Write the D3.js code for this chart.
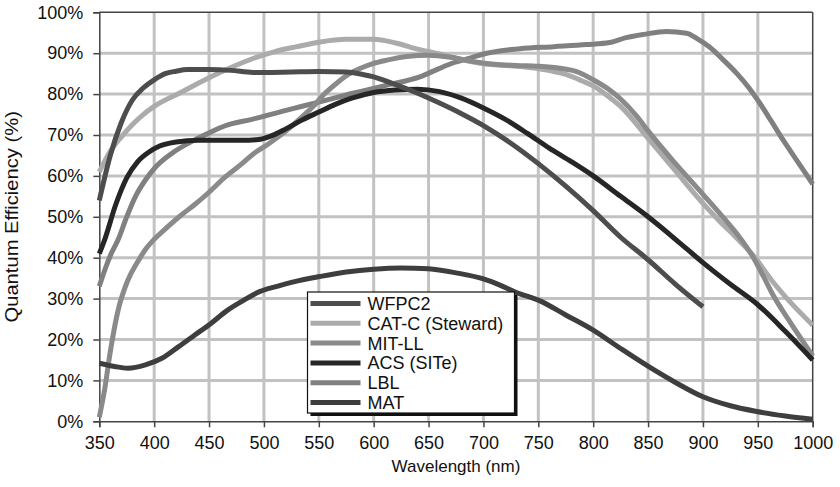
<!DOCTYPE html>
<html>
<head>
<meta charset="utf-8">
<script src="https://cdn.jsdelivr.net/npm/d3@7/dist/d3.min.js"></script>
<style>
  html, body { margin: 0; padding: 0; background: #fff; }
  svg { display: block; font-family: Arial, "Liberation Sans", sans-serif; }
</style>
</head>
<body>
<svg id="chart" width="840" height="487"></svg>
<script>
// ---- Data (wavelength nm, quantum efficiency %) ----
const xTicks = [350, 400, 450, 500, 550, 600, 650, 700, 750, 800, 850, 900, 950, 1000];
const yTicks = [0, 10, 20, 30, 40, 50, 60, 70, 80, 90, 100];
const seriesNames = ["WFPC2", "CAT-C (Steward)", "MIT-LL", "ACS (SITe)", "LBL", "MAT"];

const wfpc2 = [[350,54],[360,65],[370,73],[380,78.5],[390,81.5],[400,83.5],[410,85],[420,85.6],[430,86],[450,86],[470,85.8],[490,85.3],[500,85.3],[525,85.4],[550,85.5],[575,85.4],[590,84.8],[600,84.2],[620,82.3],[640,80.2],[660,77.8],[680,75.2],[700,72.3],[725,68],[750,63],[775,57.5],[800,51.5],[825,45],[850,39.5],[875,33.5],[900,28]];

const catc = [[350,61],[360,66],[370,69.5],[380,72.5],[390,75],[400,77],[425,80.5],[450,84],[470,86.5],[490,88.7],[510,90.4],[530,91.6],[550,92.7],[575,93.4],[600,93.4],[620,92.5],[640,91],[660,89.8],[680,88.5],[700,87.4],[725,86.9],[750,86.2],[775,84.8],[790,83.2],[800,82],[812,79.8],[825,77],[850,69.2],[875,61.2],[900,53.3],[915,49],[930,45],[946,40.5],[964,34],[980,29],[1000,23.5]];

const mitll = [[350,1],[355,8],[360,17],[367,27],[376,34.5],[385,39],[392,42],[400,44.5],[410,47],[425,50.5],[437,53],[450,56],[465,59.8],[480,63],[490,65.3],[505,68],[521,71.2],[535,74.5],[545,77],[555,80],[566,82.6],[577,84.8],[588,86.3],[600,87.5],[612,88.3],[630,89.2],[650,89.5],[670,89],[690,88],[710,87.3],[730,87],[750,86.8],[770,86.3],[785,85.5],[800,83.5],[815,81],[825,78.8],[840,74.5],[850,71],[875,63],[900,55.5],[918,50],[932,45.5],[946,40],[955,35.5],[964,30.8],[980,24],[1000,16]];

const acs = [[350,41],[355,44.5],[365,53],[375,59.5],[385,63.5],[395,65.8],[405,67.3],[420,68.3],[440,68.7],[460,68.7],[480,68.7],[495,68.9],[505,69.6],[520,71.5],[535,73.7],[550,75.6],[565,77.5],[580,79],[600,80.4],[620,81],[640,81.2],[660,80.6],[680,79],[700,76.6],[720,73.8],[740,70.4],[760,66.8],[780,63.5],[800,60],[825,55],[850,50],[875,44.5],[900,38.8],[925,33.5],[950,28.5],[975,22],[1000,15]];

const lbl = [[350,33],[355,37],[360,40.5],[367,44.3],[375,50],[383,55],[392,59],[400,61.8],[416,65.5],[437,68.8],[450,70.5],[464,72.2],[490,73.9],[521,76.1],[551,78.1],[581,80.2],[612,82.2],[642,84.2],[660,86.3],[672,87.6],[690,89],[703,90],[733,91.1],[764,91.6],[794,92.1],[815,92.6],[830,93.8],[846,94.6],[867,95.3],[885,94.9],[895,93.5],[906,91.5],[918,88.5],[931,85],[942,81.5],[952,77.7],[962,73.5],[973,68.8],[985,64],[1000,58]];

const mat = [[350,14.2],[364,13.4],[376,13],[392,13.8],[407,15.4],[422,18.2],[437,21.1],[452,24],[466,27],[481,29.5],[496,31.7],[512,33],[527,34.1],[551,35.4],[575,36.5],[600,37.2],[625,37.5],[650,37.3],[675,36.3],[700,34.8],[715,33.3],[730,31.5],[751,29.5],[775,26],[800,22.3],[825,17.8],[851,13.3],[875,9.5],[900,6],[925,3.8],[949,2.4],[975,1.3],[1000,0.5]];

const seriesData = [wfpc2, catc, mitll, acs, lbl, mat];
const seriesColors = ["#4d4d4d", "#ababab", "#8a8a8a", "#262626", "#808080", "#3e3e3e"];
const drawOrder = [4, 1, 2, 5, 3, 0];

// ---- Layout ----
const W = 840, H = 487;
const margin = { left: 99.3, right: 27.3, top: 12.3, bottom: 65.7 };
const svg = d3.select("#chart");

const x = d3.scaleLinear().domain([350, 1000]).range([margin.left, W - margin.right]);
const y = d3.scaleLinear().domain([0, 100]).range([H - margin.bottom, margin.top]);

// grid
const grid = svg.append("g");
grid.selectAll("line.v").data(xTicks.slice(1, -1)).join("line")
  .attr("x1", d => x(d)).attr("x2", d => x(d))
  .attr("y1", y(0)).attr("y2", y(100))
  .attr("stroke", "#c2c2c2").attr("stroke-width", 3);
grid.selectAll("line.h").data(yTicks.slice(1, -1)).join("line")
  .attr("y1", d => y(d)).attr("y2", d => y(d))
  .attr("x1", x(350)).attr("x2", x(1000))
  .attr("stroke", "#c2c2c2").attr("stroke-width", 3);

// frame (top and right)
svg.append("line").attr("x1", x(350)).attr("x2", x(1000)).attr("y1", y(100)).attr("y2", y(100))
  .attr("stroke", "#444").attr("stroke-width", 1.5);
svg.append("line").attr("x1", x(1000)).attr("x2", x(1000)).attr("y1", y(100)).attr("y2", y(0))
  .attr("stroke", "#444").attr("stroke-width", 1.5);

// axes
const xAxis = svg.append("g").attr("transform", `translate(0,${y(0)})`)
  .call(d3.axisBottom(x).tickValues(xTicks).tickFormat(d3.format("d")).tickSize(6).tickPadding(9));
const yAxis = svg.append("g").attr("transform", `translate(${x(350)},0)`)
  .call(d3.axisLeft(y).tickValues(yTicks).tickFormat(d => d + "%").tickSize(6).tickPadding(10));
[xAxis, yAxis].forEach(a => {
  a.select(".domain").attr("stroke", "#444").attr("stroke-width", 1.5);
  a.selectAll(".tick line").attr("stroke", "#444").attr("stroke-width", 1.5);
  a.selectAll(".tick text").attr("fill", "#111").style("font-size", "18px")
    .style("font-family", "Arial, 'Liberation Sans', sans-serif");
});

// curves
const line = d3.line().x(d => x(d[0])).y(d => y(d[1])).curve(d3.curveMonotoneX);
const curves = svg.append("g");
drawOrder.forEach(i => {
  curves.append("path").datum(seriesData[i])
    .attr("d", line)
    .attr("fill", "none")
    .attr("stroke", seriesColors[i])
    .attr("stroke-width", 5)
    .attr("stroke-linejoin", "round");
});

// legend
const lg = svg.append("g").attr("transform", "translate(307.5,292)");
lg.append("rect").attr("x", 3).attr("y", 3).attr("width", 207).attr("height", 121).attr("fill", "#111");
lg.append("rect").attr("x", 0).attr("y", 0).attr("width", 207).attr("height", 121)
  .attr("fill", "#fff").attr("stroke", "#111").attr("stroke-width", 1.2);
seriesNames.forEach((name, i) => {
  const cy = 11.5 + i * 19.8;
  lg.append("line").attr("x1", 3).attr("x2", 53).attr("y1", cy).attr("y2", cy)
    .attr("stroke", seriesColors[i]).attr("stroke-width", 5);
  lg.append("text").attr("x", 60).attr("y", cy).attr("dy", "0.36em")
    .style("font-size", "18px").attr("fill", "#111").text(name);
});

// axis titles
svg.append("text").attr("x", (x(350) + x(1000)) / 2).attr("y", 472)
  .attr("text-anchor", "middle").style("font-size", "17px").attr("fill", "#111")
  .text("Wavelength (nm)");
svg.append("text").attr("transform", `translate(18,${(y(0) + y(100)) / 2}) rotate(-90) scale(1.12,1)`)
  .attr("text-anchor", "middle").style("font-size", "18px").attr("fill", "#111")
  .text("Quantum Efficiency (%)");
</script>
</body>
</html>
